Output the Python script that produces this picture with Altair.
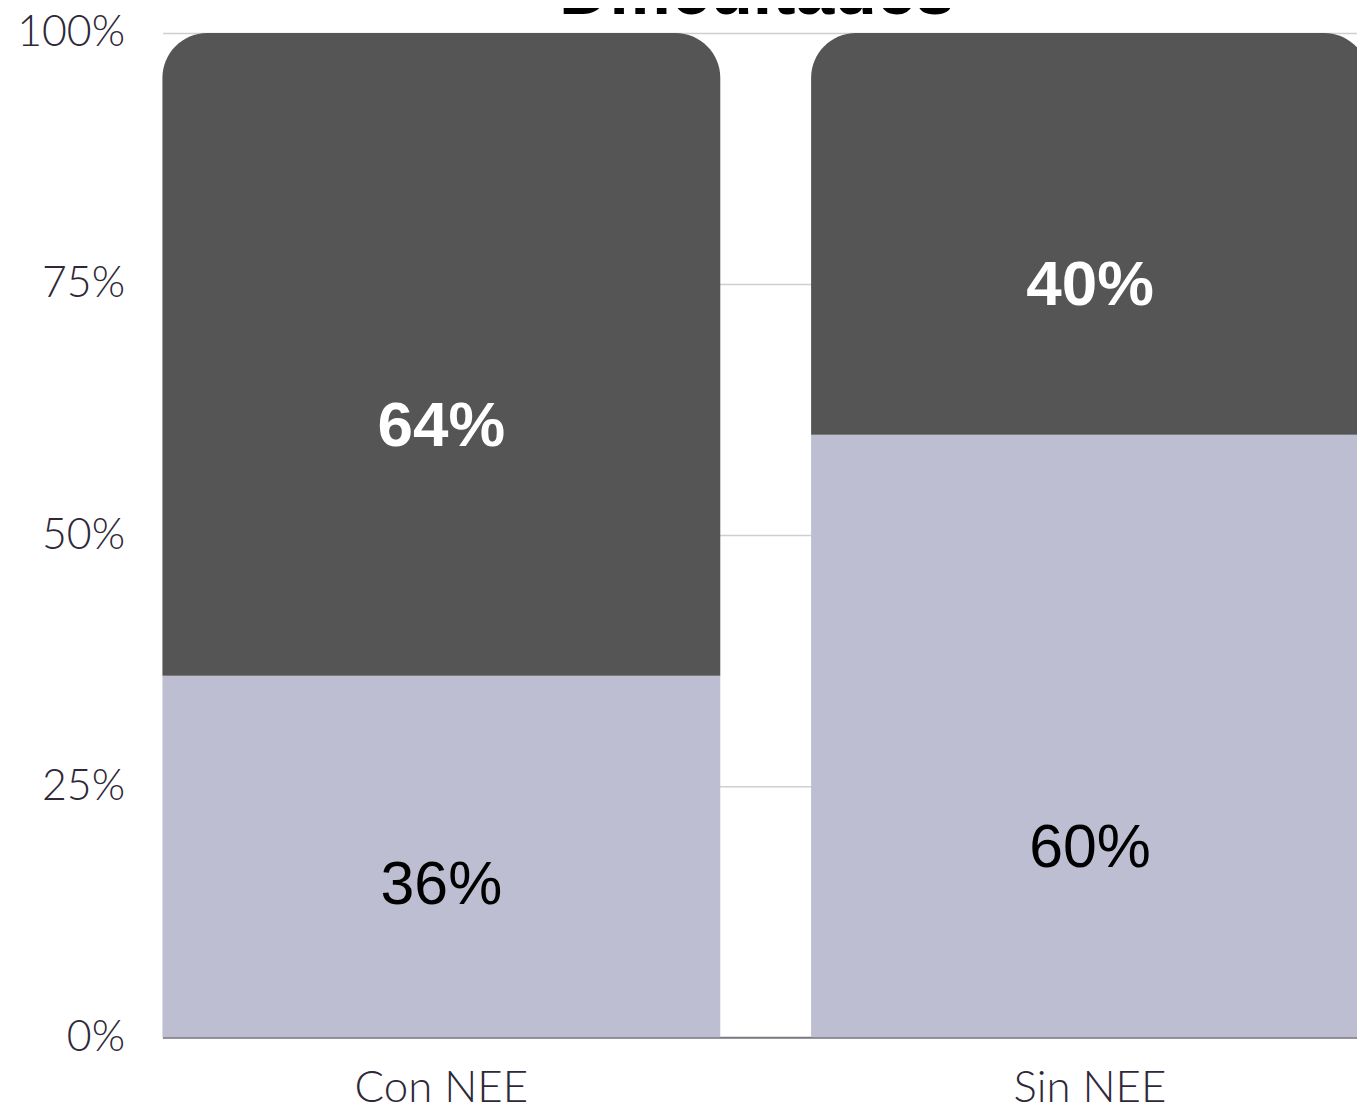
import altair as alt
import pandas as pd

grupos = ["Con NEE", "Con NEE", "Sin NEE", "Sin NEE"]
tipos = ["Sí", "No", "Sí", "No"]
orden = [1, 2, 1, 2]
valores = [0.36, 0.64, 0.60, 0.40]
etiquetas = ["36%", "64%", "60%", "40%"]
pos_etiqueta = [0.151, 0.608, 0.187, 0.748]

df = pd.DataFrame({
    "grupo": grupos, "tipo": tipos, "orden": orden, "valor": valores,
    "etiqueta": etiquetas, "pos": pos_etiqueta,
})

AXIS_FONT = "Lato"
AXIS_COLOR = "#2e2838"

x = alt.X(
    "grupo:N",
    scale=alt.Scale(paddingInner=0.14, paddingOuter=0),
    axis=alt.Axis(
        title=None, labelAngle=0, ticks=False, grid=False, domain=True,
        domainColor="#7d787f", domainWidth=2, labelLimit=0,
        labelFont=AXIS_FONT, labelFontSize=44, labelFontWeight=300,
        labelColor=AXIS_COLOR, labelPadding=29,
    ),
)
yscale = alt.Scale(domain=[0, 1])
yaxis = alt.Axis(
    title=None, format=".0%", values=[0, 0.25, 0.5, 0.75, 1],
    ticks=False, domain=False, grid=True, gridColor="#cfcfd3", gridWidth=1.5,
    labelFont=AXIS_FONT, labelFontSize=43, labelFontWeight=300,
    labelColor=AXIS_COLOR, labelPadding=38,
)

base = alt.Chart(df).transform_stack(
    stack="valor", groupby=["grupo"], as_=["y0", "y1"],
    sort=[alt.SortField("orden")],
)

claro = base.transform_filter("datum.tipo == 'Sí'").mark_bar(color="#BEBED3").encode(
    x=x, y=alt.Y("y0:Q", scale=yscale, axis=yaxis), y2="y1:Q"
)
oscuro = base.transform_filter("datum.tipo == 'No'").mark_bar(
    color="#555555", cornerRadiusTopLeft=45, cornerRadiusTopRight=45
).encode(x=x, y=alt.Y("y0:Q", scale=yscale, axis=yaxis), y2="y1:Q")

texto_claro = alt.Chart(df).transform_filter("datum.tipo == 'Sí'").mark_text(
    font="Liberation Sans", fontSize=61, fontWeight="normal", color="black", baseline="middle"
).encode(x=x, y=alt.Y("pos:Q", scale=yscale), text="etiqueta:N")
texto_oscuro = alt.Chart(df).transform_filter("datum.tipo == 'No'").mark_text(
    font="Liberation Sans", fontSize=64, fontWeight="bold", color="white", baseline="middle"
).encode(x=x, y=alt.Y("pos:Q", scale=yscale), text="etiqueta:N")

chart = alt.layer(claro, oscuro, texto_claro, texto_oscuro).properties(
    width=1211, height=1008,
    title=alt.TitleParams(
        "Dificultades", font="Liberation Sans", fontSize=70, fontWeight="bold",
        color="black", anchor="middle", offset=-17, dx=-9,
    ),
    padding={"left": 8, "top": -52, "right": -12, "bottom": 5},
).configure_view(stroke=None)

chart.save("out.html", embed_options={"renderer": "svg", "actions": False})
